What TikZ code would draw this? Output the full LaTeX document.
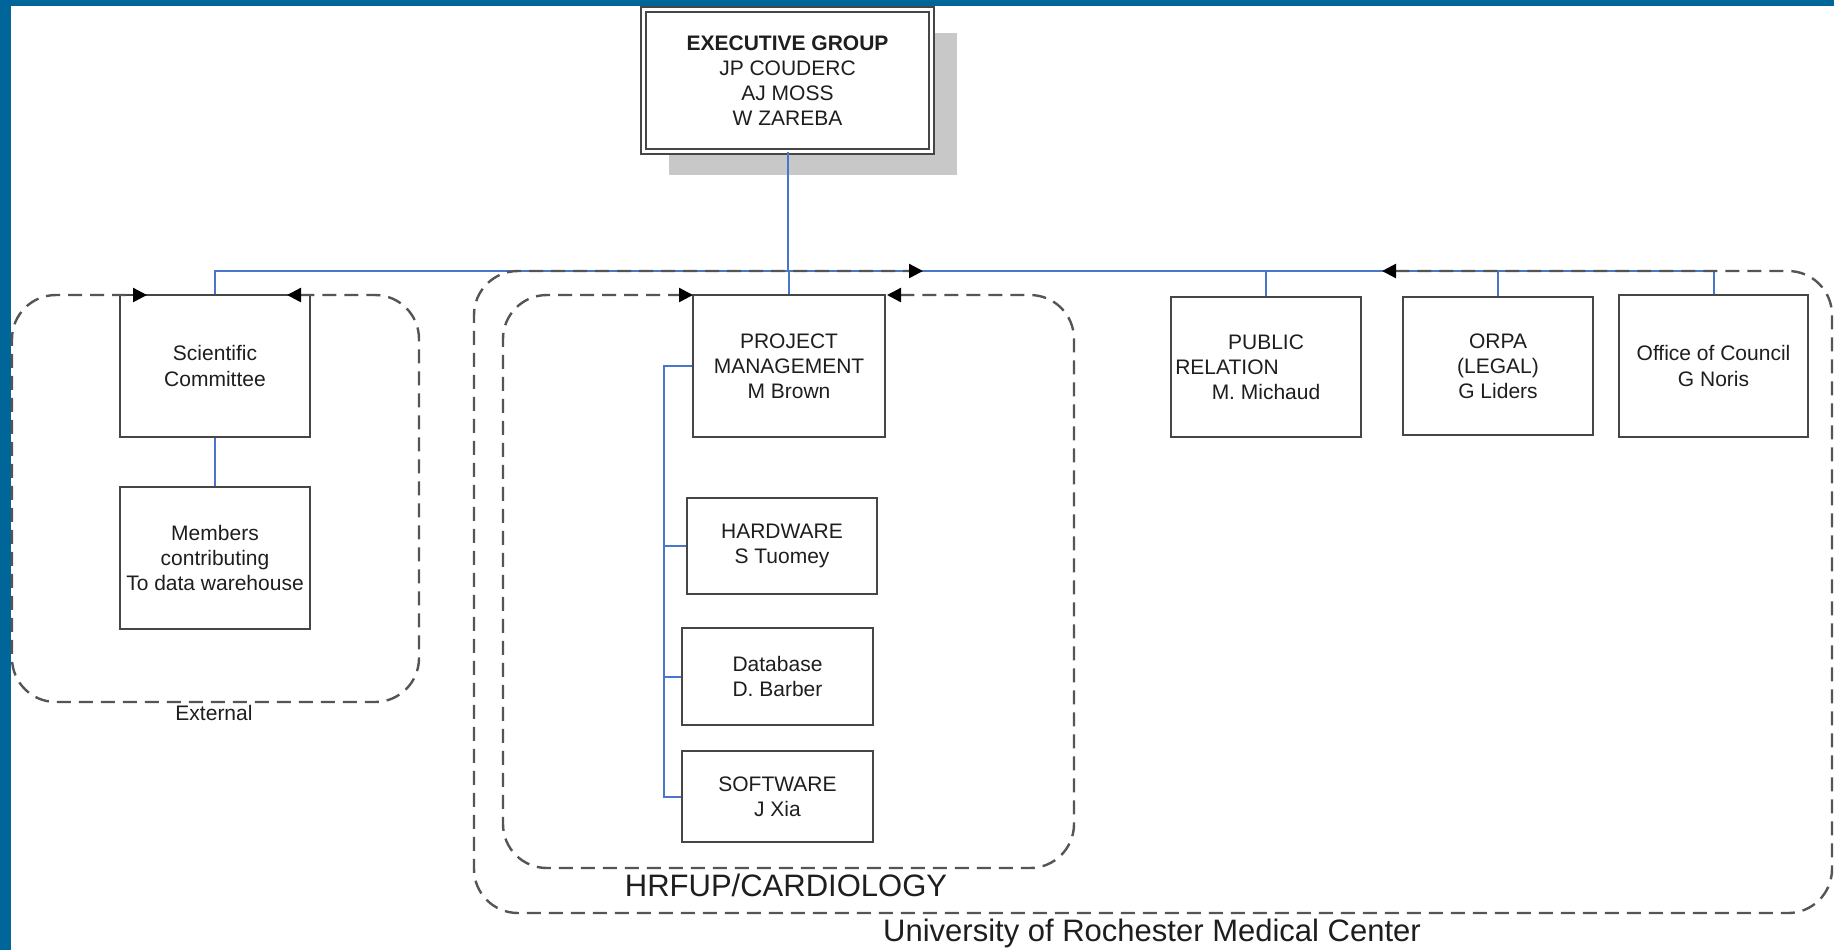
\documentclass[tikz,border=0pt]{standalone}
\usepackage{fontspec}
\setmainfont{Liberation Sans}
\usetikzlibrary{arrows.meta}
\definecolor{frameblue}{RGB}{0,102,153}
\definecolor{conblue}{RGB}{74,118,200}
\definecolor{boxgray}{RGB}{70,70,70}
\definecolor{dashgray}{RGB}{85,85,85}
\definecolor{shadowgray}{RGB}{200,200,200}
\definecolor{txt}{RGB}{30,30,30}
\begin{document}
\begin{tikzpicture}[x=0.5pt,y=-0.5pt,
  orgbox/.style={draw=boxgray, line width=1pt, fill=white, align=center,
    font=\fontsize{10.5}{12.6}\selectfont, text=txt, inner sep=0pt},
  conn/.style={draw=conblue, line width=1pt},
  container/.style={draw=dashgray, line width=1.2pt, dash pattern=on 7pt off 4pt,
    rounded corners=22pt,
    {Triangle[length=7pt,width=7pt,color=black]}-{Triangle[length=7pt,width=7pt,color=black]}},
  small/.style={font=\fontsize{10.5}{12.6}\selectfont, text=txt, inner sep=0pt},
  big/.style={font=\fontsize{15.5}{18}\selectfont, text=txt, inner sep=0pt}
]
\useasboundingbox (0,0) rectangle (1834,950);
\fill[white] (0,0) rectangle (1834,950);
% frame
\fill[frameblue] (0,0) rectangle (1834,6);
\fill[frameblue] (0,0) rectangle (11,950);

% shadow of executive box
\fill[shadowgray] (669,33) rectangle (957,175);

% nodes
\node[orgbox, draw=boxgray, double=white, double distance=1.4pt, line width=0.9pt,
  minimum width=144pt, minimum height=71pt] (exec) at (787.5,80.5)
  {\textbf{EXECUTIVE GROUP}\\JP COUDERC\\AJ MOSS\\W ZAREBA};

\node[orgbox, minimum width=95pt, minimum height=71pt] (sci) at (215,366) {Scientific\\Committee};
\node[orgbox, minimum width=95pt, minimum height=71pt] (mem) at (215,558) {Members\\contributing\\To data warehouse};

\node[orgbox, minimum width=96pt, minimum height=71pt] (pm) at (789,366) {PROJECT\\MANAGEMENT\\M Brown};
\node[orgbox, minimum width=95pt, minimum height=48pt] (hw) at (782,546) {HARDWARE\\S Tuomey};
\node[orgbox, minimum width=95.5pt, minimum height=48.5pt] (db) at (777.5,676.5) {Database\\D. Barber};
\node[orgbox, minimum width=95.5pt, minimum height=45.5pt] (sw) at (777.5,796.5) {SOFTWARE\\J Xia};

\node[orgbox, minimum width=95pt, minimum height=70pt] (pr) at (1266,367) {PUBLIC\\RELATION\rule{39pt}{0pt}\\M. Michaud};
\node[orgbox, minimum width=95pt, minimum height=69pt] (orpa) at (1498,366) {ORPA\\(LEGAL)\\G Liders};
\node[orgbox, minimum width=94.5pt, minimum height=71pt] (council) at (1713.5,366) {Office of Council\\G Noris};

% connectors
\coordinate (bus) at (0,271);
\coordinate (side) at (664,0);
\draw[conn] (sci.north) -- (sci.north |- bus) -- (council.north |- bus) -- (council.north);
\draw[conn] (exec.south) -- (exec.south |- bus);
\draw[conn] (pm.north) -- (pm.north |- bus);
\draw[conn] (pr.north) -- (pr.north |- bus);
\draw[conn] (orpa.north) -- (orpa.north |- bus);
\draw[conn] (sci.south) -- (mem.north);
\draw[conn] (pm.west) -- (side |- pm.west) -- (side |- sw.west) -- (sw.west);
\draw[conn] (hw.west) -- (side |- hw.west);
\draw[conn] (db.west) -- (side |- db.west);

% containers
\draw[container] (287,295) -- (419,295) -- (419,702) -- (12,702) -- (12,295) -- (147,295);
\draw[container] (887,295) -- (1074,295) -- (1074,868) -- (503,868) -- (503,295) -- (693,295);
\draw[container] (1382,271) -- (1832,271) -- (1832,913) -- (474,913) -- (474,271) -- (923,271);

% container labels
\node[small] (ext) at (214,713) {External};
\node[big] (hrf) at (786,885) {HRFUP/CARDIOLOGY};
\node[big] (urmc) at (1152,933) {University of Rochester Medical Center};
\end{tikzpicture}
\end{document}
